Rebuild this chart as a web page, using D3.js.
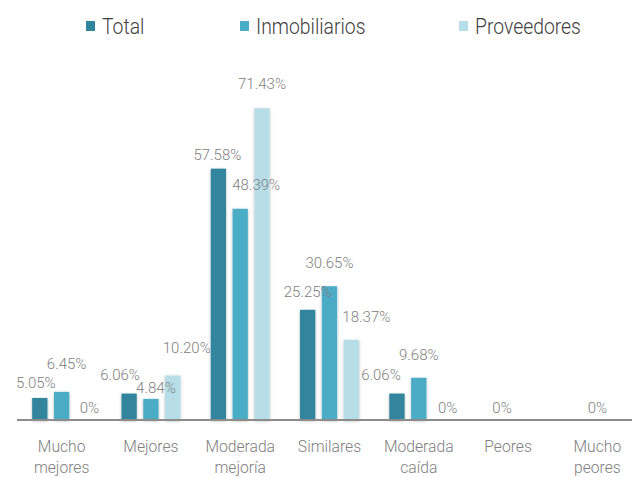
<!DOCTYPE html>
<html>
<head>
<meta charset="utf-8">
<script src="https://cdn.jsdelivr.net/npm/d3@7"></script>
<style>
  html, body { margin: 0; padding: 0; background: #fff; }
  svg { display: block; font-family: Roboto, "Liberation Sans", sans-serif; }
</style>
</head>
<body>
<svg id="chart" width="632" height="477"></svg>
<script>
// Survey answers grouped by respondent type (percent of answers)
const categories = ["Mucho mejores", "Mejores", "Moderada mejoría", "Similares", "Moderada caída", "Peores", "Mucho peores"];
const seriesNames = ["Total", "Inmobiliarios", "Proveedores"];
const total = [5.05, 6.06, 57.58, 25.25, 6.06, 0, 0];
const inmobiliarios = [6.45, 4.84, 48.39, 30.65, 9.68, 0, 0];
const proveedores = [0, 10.20, 71.43, 18.37, 0, 0, 0];
const colors = ["#31859c", "#4bacc6", "#b7dee8"];

// Where each value label sits relative to the top centre of its bar (null = not shown)
const labelNudge = [
  [[-4, -15], [-9, -19], [-1, -14], [0, -18], [-16, -18.5], null, null],
  [[5, -28], [5, -11], [16, -24], [0, -23], [0, -23], [-6, -12], [0, -12]],
  [[6, -12], [14, -27.5], [0, -24], [15, -23], [7, -12], null, null]
];

const seriesValues = [total, inmobiliarios, proveedores];
const svg = d3.select("#chart");

const baseY = 420;
const x0 = d3.scaleBand().domain(categories).range([17, 642]).paddingInner(0.34).paddingOuter(0.17);
const x1 = d3.scaleBand().domain(seriesNames).range([0, x0.bandwidth()]).paddingInner(0.3).paddingOuter(0);
const y = d3.scaleLinear().domain([0, 80]).range([baseY, baseY - 80 * 4.365]);

const defs = svg.append("defs");
const f = defs.append("filter").attr("id", "shadow").attr("x", "-50%").attr("y", "-10%").attr("width", "200%").attr("height", "120%");
f.append("feDropShadow").attr("dx", 0).attr("dy", 1).attr("stdDeviation", 1.8)
  .attr("flood-color", "#000").attr("flood-opacity", 0.28);

// Bars
const groups = svg.append("g").selectAll("g")
  .data(seriesNames.map((name, s) => ({ name, s, values: seriesValues[s] })))
  .join("g")
  .attr("fill", d => colors[d.s]);

groups.selectAll("rect")
  .data(d => d.values.map((v, i) => ({ v, i, s: d.s, name: d.name })).filter(d => d.v > 0))
  .join("rect")
  .attr("x", d => x0(categories[d.i]) + x1(d.name))
  .attr("y", d => y(d.v))
  .attr("width", x1.bandwidth())
  .attr("height", d => baseY - y(d.v))
  .attr("filter", "url(#shadow)");

// Baseline
svg.append("line")
  .attr("x1", 17).attr("x2", 632)
  .attr("y1", baseY).attr("y2", baseY)
  .attr("stroke", "#8c8c8c").attr("stroke-width", 2);

// Value labels
const fmt = v => v === 0 ? "0%" : v.toFixed(2) + "%";
const labels = [];
seriesValues.forEach((vals, s) => vals.forEach((v, i) => {
  const n = labelNudge[s][i];
  if (!n) return;
  labels.push({ v, i, s, dx: n[0], dy: n[1] });
}));
svg.append("g").selectAll("text")
  .data(labels)
  .join("text")
  .attr("x", d => x0(categories[d.i]) + x1(seriesNames[d.s]) + x1.bandwidth() / 2 + d.dx)
  .attr("y", d => y(d.v) + d.dy)
  .attr("text-anchor", "middle")
  .attr("dominant-baseline", "central")
  .attr("font-size", 15)
  .attr("font-weight", 300)
  .attr("fill", "#808080")
  .text(d => fmt(d.v));

// Category labels (two lines where the name has two words)
const cat = svg.append("g").selectAll("text")
  .data(categories)
  .join("text")
  .attr("transform", d => `translate(${x0(d) + x0.bandwidth() / 2},452) scale(0.98,1)`)
  .attr("text-anchor", "middle")
  .attr("font-size", 16)
  .attr("font-weight", 300)
  .attr("fill", "#808080");
cat.selectAll("tspan")
  .data(d => d.split(" "))
  .join("tspan")
  .attr("x", 0)
  .attr("dy", (d, i) => i === 0 ? 0 : 21)
  .text(d => d);

// Legend
const legendX = [86, 240, 459];
const leg = svg.append("g").selectAll("g")
  .data(seriesNames)
  .join("g")
  .attr("transform", (d, i) => `translate(${legendX[i]},0)`);
leg.append("rect")
  .attr("x", 0).attr("y", 21).attr("width", 9).attr("height", 10)
  .attr("fill", (d, i) => colors[i]);
leg.append("text")
  .attr("transform", "translate(16,34) scale(0.88,1)")
  .attr("font-size", 22)
  .attr("font-weight", 300)
  .attr("fill", "#404040")
  .text(d => d);
</script>
</body>
</html>
